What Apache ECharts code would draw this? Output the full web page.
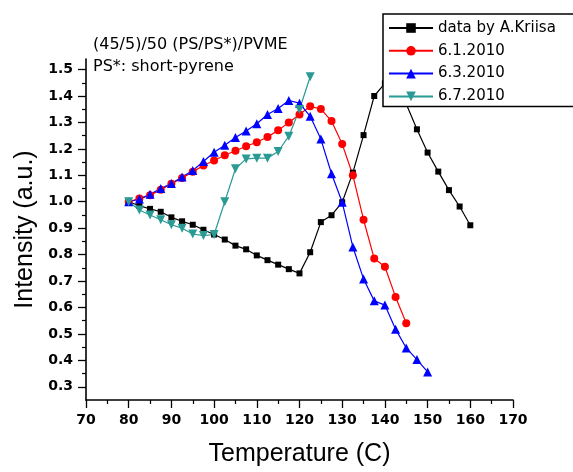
<!DOCTYPE html>
<html>
<head>
<meta charset="utf-8">
<title>Intensity vs Temperature</title>
<script src="https://cdn.jsdelivr.net/npm/echarts@6/dist/echarts.min.js"></script>
<style>
  html, body { margin: 0; padding: 0; background: #fff; overflow: hidden; }
  #chart { width: 573px; height: 472px; }
</style>
</head>
<body>
<div id="chart"></div>
<script>
// temperatures (C) and intensities (a.u.)
const tempKriisa = [80, 82.5, 85, 87.5, 90, 92.5, 95, 97.5, 100, 102.5, 105, 107.5, 110, 112.5, 115, 117.5, 120,
  122.5, 125, 127.5, 130, 132.5, 135, 137.5, 140, 142.5, 145, 147.5, 150, 152.5, 155, 157.5, 160];
const intKriisa = [1.0, 0.985, 0.973, 0.962, 0.941, 0.926, 0.913, 0.894, 0.876, 0.857, 0.834, 0.82, 0.797, 0.779, 0.762, 0.745, 0.729,
  0.809, 0.923, 0.949, 0.998, 1.11, 1.252, 1.40, 1.448, 1.50, 1.37, 1.274, 1.186, 1.114, 1.044, 0.982, 0.911];

const tempRed = [80, 82.5, 85, 87.5, 90, 92.5, 95, 97.5, 100, 102.5, 105, 107.5, 110, 112.5, 115, 117.5, 120,
  122.5, 125, 127.5, 130, 132.5, 135, 137.5, 140, 142.5, 145];
const intRed = [1.0, 1.012, 1.025, 1.045, 1.068, 1.09, 1.113, 1.137, 1.156, 1.176, 1.193, 1.21, 1.225, 1.245, 1.27, 1.30, 1.33,
  1.361, 1.351, 1.305, 1.218, 1.10, 0.932, 0.785, 0.754, 0.64, 0.54];

const tempBlue = [80, 82.5, 85, 87.5, 90, 92.5, 95, 97.5, 100, 102.5, 105, 107.5, 110, 112.5, 115, 117.5, 120,
  122.5, 125, 127.5, 130, 132.5, 135, 137.5, 140, 142.5, 145, 147.5, 150];
const intBlue = [1.0, 1.01, 1.028, 1.05, 1.069, 1.094, 1.118, 1.152, 1.187, 1.214, 1.243, 1.268, 1.295, 1.33, 1.353, 1.383, 1.373,
  1.323, 1.237, 1.106, 0.998, 0.829, 0.708, 0.625, 0.609, 0.518, 0.447, 0.403, 0.356];

const tempTeal = [80, 82.5, 85, 87.5, 90, 92.5, 95, 97.5, 100, 102.5, 105, 107.5, 110, 112.5, 115, 117.5, 120, 122.5];
const intTeal = [1.0, 0.969, 0.95, 0.932, 0.913, 0.90, 0.878, 0.872, 0.876, 1.0, 1.125, 1.162, 1.165, 1.165, 1.19, 1.248, 1.349, 1.473];

const seriesNames = ["data by A.Kriisa", "6.1.2010", "6.3.2010", "6.7.2010"];
const yTicks = [0.3, 0.4, 0.5, 0.6, 0.7, 0.8, 0.9, 1.0, 1.1, 1.2, 1.3, 1.4, 1.5];
const yMinorTicks = [0.35, 0.45, 0.55, 0.65, 0.75, 0.85, 0.95, 1.05, 1.15, 1.25, 1.35, 1.45];
const noteLines = ["(45/5)/50 (PS/PS*)/PVME", "PS*: short-pyrene"];

const tickFont = { fontFamily: "DejaVu Sans", fontWeight: "bold", fontSize: 14, color: "#000" };

function pairs(xs, ys) {
  return xs.map((x, i) => [x, ys[i]]);
}

function lineSeries(name, xs, ys, color, symbol, size, rotate) {
  return {
    name: name,
    type: "line",
    data: pairs(xs, ys),
    symbol: symbol,
    symbolSize: size,
    symbolRotate: rotate || 0,
    showAllSymbol: true,
    lineStyle: { color: color, width: 1.2 },
    itemStyle: { color: color },
    emphasis: { disabled: true },
  };
}

const myChart = echarts.init(document.getElementById("chart"), null, { renderer: "canvas" });

const option = {
  animation: false,
  backgroundColor: "#fff",
  grid: { left: 86, right: 60, top: 59, bottom: 67 },
  legend: {
    data: seriesNames,
    orient: "vertical",
    left: 383,
    top: 14,
    padding: [6, 60, 2, 5],
    itemWidth: 44,
    itemHeight: 12,
    itemGap: 6.8,
    backgroundColor: "#fff",
    borderColor: "#000",
    borderWidth: 1.5,
    borderRadius: 0,
    textStyle: { fontFamily: "DejaVu Sans", fontSize: 15, color: "#000", lineHeight: 16 },
  },
  graphic: [
    {
      type: "text", left: 93, top: 37,
      style: { text: noteLines[0], font: "16px 'DejaVu Sans'", fill: "#000" },
    },
    {
      type: "text", left: 93, top: 59,
      style: { text: noteLines[1], font: "16px 'DejaVu Sans'", fill: "#000" },
    },
  ],
  xAxis: {
    type: "value",
    min: 70,
    max: 170,
    interval: 10,
    name: "Temperature (C)",
    nameLocation: "middle",
    nameGap: 42,
    nameTextStyle: { fontFamily: "Liberation Sans", fontSize: 25, color: "#000" },
    axisLine: { show: true, onZero: false, lineStyle: { color: "#000", width: 1.6 } },
    axisTick: { show: true, length: 8, lineStyle: { color: "#000", width: 1.3 } },
    minorTick: { show: true, splitNumber: 2, length: 4, lineStyle: { color: "#000", width: 1.2 } },
    axisLabel: Object.assign({ margin: 13 }, tickFont),
    splitLine: { show: false },
  },
  yAxis: [
    {
      type: "value",
      min: 0.25,
      max: 1.54,
      name: "Intensity (a.u.)",
      nameLocation: "middle",
      nameGap: 48,
      nameTextStyle: { fontFamily: "Liberation Sans", fontSize: 25, color: "#000" },
      axisLine: { show: true, onZero: false, lineStyle: { color: "#000", width: 1.6 } },
      axisTick: { show: true, length: 8, customValues: yTicks, lineStyle: { color: "#000", width: 1.3 } },
      axisLabel: Object.assign({
        margin: 13,
        customValues: yTicks,
        formatter: (v) => v.toFixed(1),
      }, tickFont),
      splitLine: { show: false },
    },
    {
      // minor ticks only
      type: "value",
      min: 0.25,
      max: 1.54,
      position: "left",
      axisLine: { show: false },
      axisTick: { show: true, length: 4, customValues: yMinorTicks, lineStyle: { color: "#000", width: 1.2 } },
      axisLabel: { show: false },
      splitLine: { show: false },
    },
  ],
  series: [
    lineSeries(seriesNames[0], tempKriisa, intKriisa, "#000000", "rect", 6),
    lineSeries(seriesNames[1], tempRed, intRed, "#ff0000", "circle", 8),
    lineSeries(seriesNames[2], tempBlue, intBlue, "#0000ff", "triangle", 9),
    lineSeries(seriesNames[3], tempTeal, intTeal, "#2a9a95", "triangle", 9, 180),
  ],
};

myChart.setOption(option);
window.addEventListener("resize", () => {
  myChart.resize();
});
</script>
</body>
</html>
